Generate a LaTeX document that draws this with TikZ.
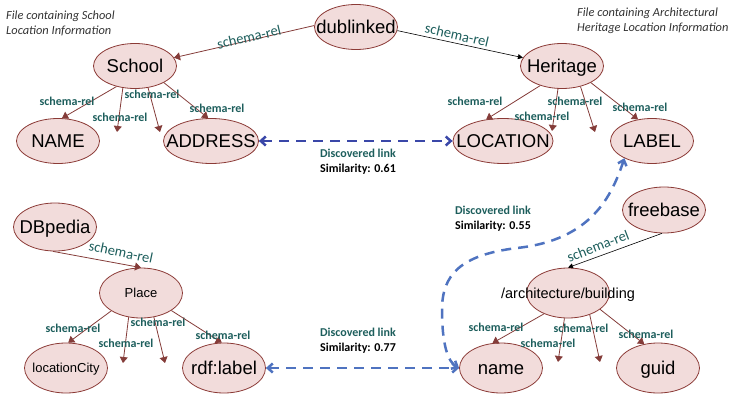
\documentclass[tikz,border=0pt]{standalone}
\usepackage{fontspec}
\setmainfont{Liberation Sans}
\newfontfamily\calfont{Carlito}
\usetikzlibrary{shapes.geometric,arrows.meta}
\definecolor{nodefill}{HTML}{F2DCDB}
\definecolor{nodeline}{HTML}{8B3A36}
\definecolor{relline}{HTML}{843C39}
\definecolor{relteal}{HTML}{1D5E5C}
\definecolor{linkdark}{HTML}{3A47A8}
\definecolor{linklight}{HTML}{4F73C0}
\definecolor{notegray}{HTML}{333333}
\newcommand{\entxt}[1]{\makebox[0pt]{#1}}
\tikzset{
  entity/.style={ellipse, draw=nodeline, fill=nodefill, line width=0.8pt, minimum width=83pt, minimum height=45pt, inner sep=0pt, text height=13.2pt, text depth=0pt, font=\fontsize{18.5}{20}\selectfont},
  smallentity/.style={entity, minimum height=50pt, text height=9.3pt, font=\fontsize{13}{15}\selectfont},
  rel/.style={-{Triangle[width=8pt,length=6pt]}, draw=relline, line width=0.8pt},
  relblack/.style={-{Triangle[width=5pt,length=5pt]}, draw=black, line width=0.6pt},
  rellabel/.style={text=relteal, font=\fontsize{12}{14}\selectfont\calfont\bfseries, inner sep=0pt},
  relrotlabel/.style={text=relteal, font=\fontsize{14.5}{16}\selectfont\calfont, inner sep=0pt},
  link/.style={{Straight Barb[width=9pt,length=5pt]}-{Straight Barb[width=9pt,length=5pt]}, line width=2.5pt, dash pattern=on 10pt off 7pt},
  linklabel/.style={align=center, text=black, font=\fontsize{12}{15}\selectfont\calfont\bfseries, inner sep=0pt},
  note/.style={align=left, font=\fontsize{12.4}{15}\selectfont\calfont\itshape, text=notegray, inner sep=0pt}
}
\begin{document}
\begin{tikzpicture}[x=1pt, y=-1pt]
  \useasboundingbox (0,0) rectangle (730,396);

  \node[note, anchor=north west] (schoolnote) at (6,11) {File containing School\\Location Information};
  \node[note, anchor=north west] (heritagenote) at (577,8) {File containing Architectural\\Heritage Location Information};

  % upper graphs
  \node[entity] (dublinked) at (356,27) {\entxt{dublinked}};
  \node[entity] (school) at (135,66) {\entxt{School}};
  \node[entity] (heritage) at (562,66) {\entxt{Heritage}};
  \node[entity] (nameupper) at (58,141) {\entxt{NAME}};
  \node[entity, minimum width=95pt] (address) at (211,141) {\entxt{ADDRESS}};
  \node[entity, minimum width=100pt] (location) at (503,141) {\entxt{LOCATION}};
  \node[entity] (label) at (652,141) {\entxt{LABEL}};

  % lower graphs
  \node[entity, minimum height=48pt] (dbpedia) at (55,227) {\entxt{DBpedia}};
  \node[smallentity] (place) at (141,293) {\entxt{Place}};
  \node[smallentity] (locationcity) at (66,368) {\entxt{locationCity}};
  \node[entity, minimum height=50pt] (rdflabel) at (224,368) {\entxt{rdf:label}};
  \node[entity, minimum height=46pt] (freebase) at (664,210) {\entxt{freebase}};
  \node[smallentity, font=\fontsize{14.5}{16}\selectfont, text height=10.4pt] (building) at (568,293) {\entxt{/architecture/building}};
  \node[entity, minimum height=50pt] (name) at (501,368) {\entxt{name}};
  \node[entity, minimum height=50pt] (guid) at (658,368) {\entxt{guid}};

  \coordinate (schoolend1) at (117,132);
  \coordinate (schoolend2) at (160,132);
  \coordinate (heritageend1) at (552,131);
  \coordinate (heritageend2) at (595,132);
  \coordinate (placeend1) at (123,363);
  \coordinate (placeend2) at (165,363);
  \coordinate (buildingend1) at (558,362);
  \coordinate (buildingend2) at (600,362);

  \draw[rel] (dublinked.178) -- (school.12) node[relrotlabel, rotate=13] at (249,37) {schema-rel};
  \draw[rel] (school.228) -- (nameupper.80) node[rellabel] at (67,101) {schema-rel};
  \draw[rel] (school.241) -- (schoolend1) node[rellabel] at (120,117) {schema-rel};
  \draw[rel] (school.301) -- (schoolend2) node[rellabel] at (152,94) {schema-rel};
  \draw[rel] (school.330) -- (address.97) node[rellabel] at (217,108) {schema-rel};

  \draw[relblack] (dublinked.355) -- (heritage.168) node[relrotlabel, rotate=-13] at (457,35) {schema-rel};
  \draw[rel] (heritage.222) -- (location.128) node[rellabel] at (475,101) {schema-rel};
  \draw[rel] (heritage.260) -- (heritageend1) node[rellabel] at (542,116) {schema-rel};
  \draw[rel] (heritage.312) -- (heritageend2) node[rellabel] at (575,101) {schema-rel};
  \draw[rel] (heritage.330) -- (label.123) node[rellabel] at (640,107) {schema-rel};

  \draw[rel] (dbpedia.265) -- (place.north) node[relrotlabel, rotate=-12] at (121,252) {schema-rel};
  \draw[rel] (place.211) -- (locationcity.85) node[rellabel] at (73,328) {schema-rel};
  \draw[rel] (place.243) -- (placeend1) node[rellabel] at (126,343) {schema-rel};
  \draw[rel] (place.298) -- (placeend2) node[rellabel] at (158,322) {schema-rel};
  \draw[rel] (place.330) -- (rdflabel.95) node[rellabel] at (223,335) {schema-rel};

  \draw[relblack] (freebase.265) -- (building.north) node[relrotlabel, rotate=21] at (598,246) {schema-rel};
  \draw[rel] (building.221) -- (name.109) node[rellabel] at (496,327) {schema-rel};
  \draw[rel] (building.262) -- (buildingend1) node[rellabel] at (548,343) {schema-rel};
  \draw[rel] (building.315) -- (buildingend2) node[rellabel] at (581,328) {schema-rel};
  \draw[rel] (building.333) -- (guid.120) node[rellabel] at (646,334) {schema-rel};

  % discovered links
  \draw[link, linkdark] (address.east) -- (location.west)
    node[linklabel] at (358,162) {{\color{relteal}Discovered link}\\Similarity: 0.61};
  \draw[link, linklight] (rdflabel.east) -- (name.west)
    node[linklabel] at (358,341) {{\color{relteal}Discovered link}\\Similarity: 0.77};
  \draw[link, linklight] (label.212) .. controls (612,195) and (592,240) .. (517,248)
    .. controls (460,255) and (442,275) .. (442,310)
    .. controls (442,345) and (448,362) .. (name.west)
    node[linklabel] at (493,219) {{\color{relteal}Discovered link}\\Similarity: 0.55};
\end{tikzpicture}
\end{document}
